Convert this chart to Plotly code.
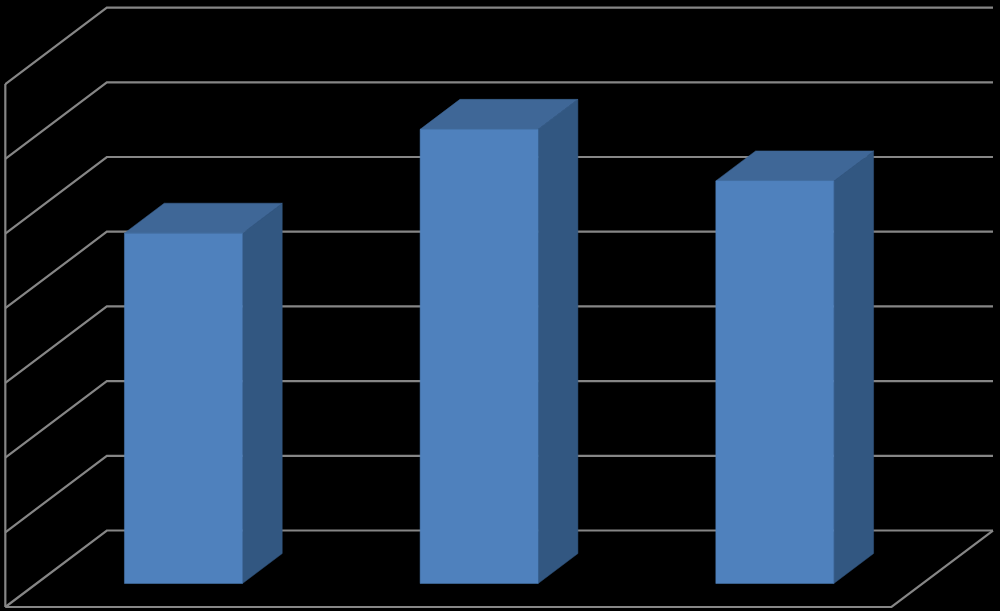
import plotly.graph_objects as go

categories = [0, 1, 2]
values = [4.69, 6.08, 5.39]
grid_levels = [0, 1, 2, 3, 4, 5, 6, 7]

DX, DY = 0.3433, 1.024      # projection of full chart depth, in axis units
CMIN, CMAX = -0.497, 2.5    # category extent of the floor
D0, D1 = 0.307, 0.699       # bar depth span
HALF = 0.1995               # half bar width

GRID = "#868686"
FRONT, TOP, SIDE = "#4f81bd", "#3f6797", "#325781"


def px(c, d):
    return c + d * DX


def py(v, d):
    return v + d * DY


fig = go.Figure()


def line(xs, ys):
    fig.add_trace(go.Scatter(x=xs, y=ys, mode="lines", hoverinfo="skip",
                             line=dict(color=GRID, width=2.2)))


def face(pts, color):
    fig.add_trace(go.Scatter(x=[p[0] for p in pts] + [pts[0][0]],
                             y=[p[1] for p in pts] + [pts[0][1]],
                             mode="lines", fill="toself", fillcolor=color,
                             line=dict(color=color, width=0.5), hoverinfo="skip"))


# Walls and floor grid
for g in grid_levels:
    line([px(CMIN, 0), px(CMIN, 1), px(CMAX, 1)], [py(g, 0), py(g, 1), py(g, 1)])
line([CMIN, CMIN], [0, grid_levels[-1]])
line([CMIN, CMAX, px(CMAX, 1)], [0, 0, py(0, 1)])

# Bars
for c, v in zip(categories, values):
    l, r = c - HALF, c + HALF
    face([(px(r, D0), py(0, D0)), (px(r, D1), py(0, D1)),
          (px(r, D1), py(v, D1)), (px(r, D0), py(v, D0))], SIDE)
    face([(px(l, D0), py(v, D0)), (px(r, D0), py(v, D0)),
          (px(r, D1), py(v, D1)), (px(l, D1), py(v, D1))], TOP)
    face([(px(l, D0), py(0, D0)), (px(r, D0), py(0, D0)),
          (px(r, D0), py(v, D0)), (px(l, D0), py(v, D0))], FRONT)

fig.update_layout(
    width=1000, height=611, showlegend=False,
    margin=dict(l=0, r=0, t=0, b=0),
    paper_bgcolor="#000000", plot_bgcolor="#000000",
    xaxis=dict(visible=False, range=[-0.515, 2.867]),
    yaxis=dict(visible=False, range=[-0.0535, 8.126]),
)
fig.write_html(
    "out.html",
    config={"displayModeBar": False},
    post_script="document.body.style.margin='0';document.body.style.overflow='hidden';"
                "document.body.style.background='#000';",
)
